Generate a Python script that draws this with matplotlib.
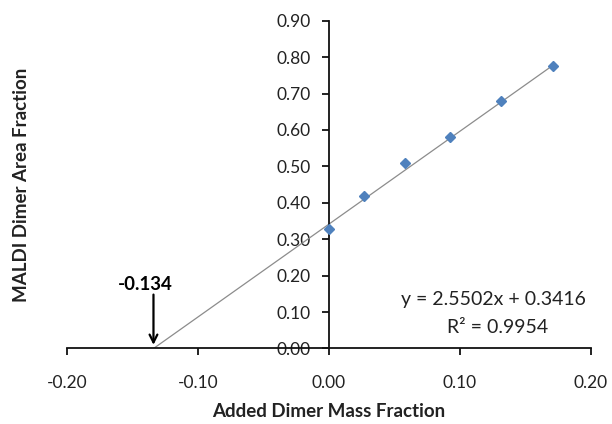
import matplotlib
matplotlib.use("Agg")
import matplotlib.pyplot as plt
import numpy as np

# Data
x_vals = [0.000, 0.027, 0.058, 0.092, 0.131, 0.171]
y_vals = [0.329, 0.418, 0.508, 0.581, 0.679, 0.775]
slope = 2.5502
intercept = 0.3416
r2 = 0.9954
x_intercept = -0.134
x_ticks = [-0.20, -0.10, 0.00, 0.10, 0.20]
y_ticks = [0.0, 0.1, 0.2, 0.3, 0.4, 0.5, 0.6, 0.7, 0.8, 0.9]

plt.rcParams['font.family'] = ['Lato', 'DejaVu Sans']

fig = plt.figure(figsize=(6.12, 4.24), dpi=100)
ax = fig.add_axes([0.1095, 0.1781, 0.8562, 0.7731])

# trend line
xl = np.array([x_intercept, max(x_vals)])
ax.plot(xl, slope * xl + intercept, color='#8c8c8c', lw=0.9, zorder=2)
# data points
ax.plot(x_vals, y_vals, linestyle='none', marker='D', markersize=5.2,
        color='#4F81BD', markeredgecolor='#4F81BD', zorder=3)

ax.set_xlim(-0.20, 0.20)
ax.set_ylim(0.0, 0.90)
ax.set_xticks(x_ticks)
ax.set_yticks(y_ticks)
ax.set_xticklabels([f"{v:.2f}" for v in x_ticks])
ax.set_yticklabels([f"{v:.2f}" for v in y_ticks])

ax.spines['left'].set_position(('data', 0))
ax.spines['top'].set_visible(False)
ax.spines['right'].set_visible(False)
for s in ('left', 'bottom'):
    ax.spines[s].set_linewidth(1.3)
    ax.spines[s].set_color('#111111')

ax.tick_params(axis='x', direction='out', length=5, width=1.3, pad=14,
               labelsize=12.5, colors='#111111', labelcolor='#222222')
ax.tick_params(axis='y', direction='out', length=5, width=1.3, pad=8,
               labelsize=12.5, colors='#111111', labelcolor='#222222')

ax.set_xlabel('Added Dimer Mass Fraction', fontsize=13.5, fontweight='bold',
              color='#222222')
ax.set_ylabel('MALDI Dimer Area Fraction', fontsize=13.5, fontweight='bold',
              color='#222222')
ax.xaxis.set_label_coords(0.5, -0.167)
ax.yaxis.set_label_coords(-0.07, 0.5)

# annotation arrow
ax.annotate('', xy=(x_intercept, 0.01), xytext=(x_intercept, 0.148),
            arrowprops=dict(arrowstyle='->', lw=1.6, color='black',
                            shrinkA=0, shrinkB=0, mutation_scale=14))
ax.text(x_intercept - 0.006, 0.177, '-0.134', ha='center', va='center',
        fontsize=13.5, fontweight='bold', color='black')

ax.text(0.1252, 0.134, f"y = {slope:.4f}x + {intercept:.4f}", ha='center',
        va='center', fontsize=14, color='#222222')
ax.text(0.129, 0.058, f"R² = {r2:.4f}", ha='center', va='center',
        fontsize=14, color='#222222')

fig.savefig('out.png', dpi=100)
